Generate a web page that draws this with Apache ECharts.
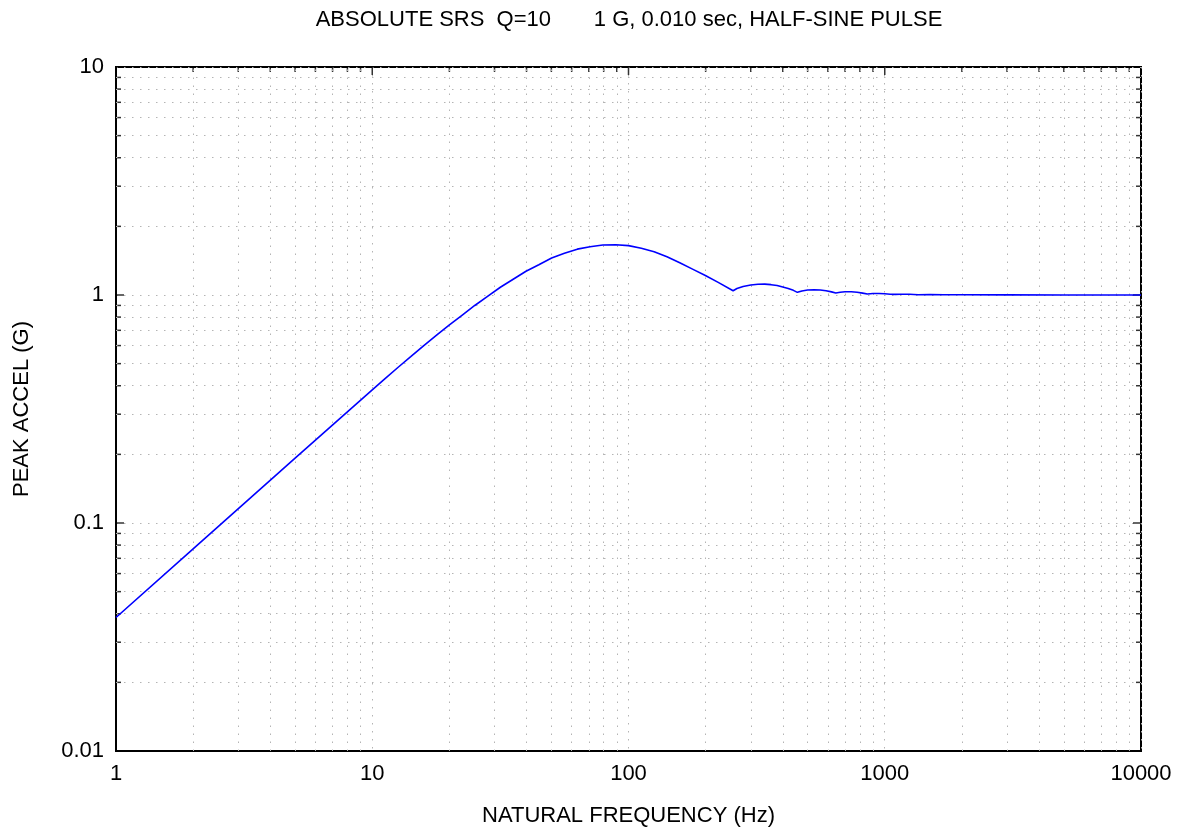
<!DOCTYPE html>
<html><head><meta charset="utf-8">
<script src="https://cdn.jsdelivr.net/npm/echarts@6/dist/echarts.min.js"></script>
<style>html,body{margin:0;padding:0;background:#fff}#c{width:1181px;height:835px}</style>
</head><body><div id="c"></div>
<script>
const titleText = 'ABSOLUTE SRS  Q=10       1 G, 0.010 sec, HALF-SINE PULSE';
const xName = 'NATURAL FREQUENCY (Hz)';
const yName = 'PEAK ACCEL (G)';
const freq = [1,2,5,10,11.22,12.59,14.13,15.85,17.78,19.95,22.39,25.12,28.18,31.62,35.48,39.81,44.67,50.12,56.23,63.1,70.8,79.4,89.1,100,112.2,125.9,141.3,158.5,177.8,199.5,223.9,256,265,280,300,320,340,360,380,400,420,440,456,475,500,530,560,590,620,644,670,700,740,780,820,855,900,950,1000,1050,1100,1150,1250,1350,1500,1700,2000,3000,5000,10000];
const accel = [0.0385,0.077,0.1925,0.3837,0.4295,0.4808,0.5364,0.5984,0.6645,0.738,0.8147,0.8995,0.9863,1.0814,1.172,1.2706,1.358,1.452,1.524,1.589,1.629,1.656,1.662,1.646,1.602,1.549,1.471,1.384,1.299,1.218,1.1363,1.044,1.068,1.09,1.107,1.115,1.116,1.11,1.10,1.085,1.068,1.048,1.027,1.042,1.051,1.055,1.052,1.043,1.032,1.02,1.028,1.033,1.034,1.028,1.019,1.01,1.015,1.016,1.012,1.008,1.006,1.008,1.007,1.003,1.004,1.002,1.002,1.001,1.0,1.0];
const xMinor = [2,3,4,5,6,7,8,9,20,30,40,50,60,70,80,90,200,300,400,500,600,700,800,900,2000,3000,4000,5000,6000,7000,8000,9000];
const yMinor = [0.02,0.03,0.04,0.05,0.06,0.07,0.08,0.09,0.2,0.3,0.4,0.5,0.6,0.7,0.8,0.9,2,3,4,5,6,7,8,9];
const xMajor = [10,100,1000];
const yMajor = [0.1,1];

const FONT = 'Liberation Sans, Arial, sans-serif';
const fmt = v => String(Number(Number(v).toPrecision(6)));
const gridStyle = {color:'#b4b4b4', type:[1.5,6.5], width:1};
const data = freq.map((f,i)=>[f,accel[i]]);
const chart = echarts.init(document.getElementById('c'));
chart.setOption({
  animation:false,
  graphic:[{type:'text',x:629,y:9,silent:true,
    style:{text:titleText,textAlign:'center',textVerticalAlign:'top',font:'22px '+FONT,fill:'#000'}}],
  grid:{left:116,right:40,top:67,bottom:84,show:true,borderColor:'#000',borderWidth:2,backgroundColor:'#fff'},
  xAxis:{type:'log',logBase:10,min:1,max:10000,
    name:xName,nameLocation:'middle',nameGap:54,
    nameTextStyle:{fontFamily:FONT,fontSize:22,color:'#000'},
    axisLine:{show:true,lineStyle:{color:'#000',width:2}},
    axisTick:{show:false},
    axisLabel:{formatter:fmt,fontFamily:FONT,fontSize:22,color:'#000',margin:12},
    splitLine:{show:true,lineStyle:gridStyle}},
  yAxis:{type:'log',logBase:10,min:0.01,max:10,
    name:yName,nameLocation:'middle',nameGap:83,nameRotate:90,
    nameTextStyle:{fontFamily:FONT,fontSize:22,color:'#000'},
    axisLine:{show:true,lineStyle:{color:'#000',width:2}},
    axisTick:{show:false},
    axisLabel:{formatter:fmt,fontFamily:FONT,fontSize:22,color:'#000',margin:12},
    splitLine:{show:true,lineStyle:gridStyle}},
  series:[
    {type:'line',data:[],z:1,silent:true,
     markLine:{silent:true,symbol:'none',label:{show:false},lineStyle:gridStyle,animation:false,
       data:xMinor.map(v=>({xAxis:v})).concat(yMinor.map(v=>({yAxis:v})))}},
    {type:'scatter',z:4,silent:true,symbol:'rect',symbolSize:[1.5,5],symbolOffset:[0,2.5],itemStyle:{color:'#000'},
     data:xMinor.map(v=>[v,10])},
    {type:'scatter',z:4,silent:true,symbol:'rect',symbolSize:[1.5,8],symbolOffset:[0,4],itemStyle:{color:'#000'},
     data:xMajor.map(v=>[v,10])},
    {type:'scatter',z:4,silent:true,symbol:'rect',symbolSize:[5,1.5],symbolOffset:[2.5,0],itemStyle:{color:'#000'},
     data:yMinor.map(v=>[1,v])},
    {type:'scatter',z:4,silent:true,symbol:'rect',symbolSize:[8,1.5],symbolOffset:[4,0],itemStyle:{color:'#000'},
     data:yMajor.map(v=>[1,v])},
    {type:'scatter',z:4,silent:true,symbol:'rect',symbolSize:[5,1.5],symbolOffset:[-2.5,0],itemStyle:{color:'#000'},
     data:yMinor.map(v=>[10000,v])},
    {type:'scatter',z:4,silent:true,symbol:'rect',symbolSize:[8,1.5],symbolOffset:[-4,0],itemStyle:{color:'#000'},
     data:yMajor.map(v=>[10000,v])},
    {type:'line',z:5,data:data,showSymbol:false,smooth:false,silent:true,
     lineStyle:{color:'#0000ff',width:1.6}}
  ]
});
</script></body></html>
